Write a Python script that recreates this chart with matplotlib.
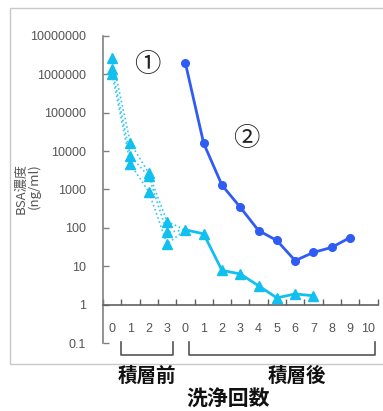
import matplotlib
matplotlib.use("Agg")
import matplotlib.pyplot as plt
from matplotlib.patches import Rectangle
from matplotlib.lines import Line2D

# Wash-count categories: 4 before lamination, 11 after
x_labels = ["0", "1", "2", "3", "0", "1", "2", "3", "4", "5", "6", "7", "8", "9", "10"]

# Before lamination (three replicates, washes 0-3)
pre_rep_a = [2.6e6, 1.6e4, 2.7e3, 146]
pre_rep_b = [1.4e6, 7.4e3, 2.2e3, 76]
pre_rep_c = [1.0e6, 4.6e3, 880, 38]

# After lamination, series 1 (washes 0-7)
post_1 = [89, 70, 7.8, 6.3, 3.1, 1.5, 1.9, 1.7]
# After lamination, series 2 (washes 0-9)
post_2 = [2.0e6, 1.6e4, 1300, 345, 85, 47, 14, 23, 31, 56]

y_ticks = [0.1, 1, 10, 100, 1000, 10000, 100000, 1000000, 10000000]
y_tick_labels = ["0.1", "1", "10", "100", "1000", "10000", "100000", "1000000", "10000000"]

LIGHT = "#12c0f0"
DARK = "#2f5cf5"
AXIS = "#808080"
TXT = "#555555"

W, H = 383, 411
fig = plt.figure(figsize=(W / 100, H / 100), dpi=100)
fig.patch.set_facecolor("white")

def fx(px):
    return px / W

def fy(py):
    return 1 - py / H

# outer chart frame
fig.patches.append(Rectangle((fx(10), fy(364)), fx(390) - fx(10), fy(8) - fy(364),
                             transform=fig.transFigure, fill=False,
                             edgecolor="#c8c8c8", linewidth=1.0))

left, right, top, bottom = 103, 377.5, 36, 343
ax = fig.add_axes([fx(left), fy(bottom), fx(right) - fx(left), fy(top) - fy(bottom)])
ax.set_facecolor("none")
ax.set_yscale("log")
ax.set_ylim(0.1, 1e7)
ax.set_xlim(0, len(x_labels))

centers = [i + 0.5 for i in range(len(x_labels))]
pre_x = centers[:4]
post_x = centers[4:]

# pre-lamination replicates: dotted lines, joined to the first post-lamination point
for rep in (pre_rep_a, pre_rep_b, pre_rep_c):
    ax.plot(pre_x + [post_x[0]], rep + [post_1[0]], linestyle=(0, (1, 1.6)),
            color=LIGHT, linewidth=1.2, alpha=0.85, zorder=2)
    ax.plot(pre_x, rep, linestyle="none", marker="^", markersize=6.5,
            color=LIGHT, zorder=3)

ax.plot(post_x[:len(post_1)], post_1, color=LIGHT, linewidth=2.0, marker="^",
        markersize=6.5, zorder=3)
ax.plot(post_x[:len(post_2)], post_2, color=DARK, linewidth=2.0, marker="o",
        markersize=5.5, zorder=4)

# axes styling
for s in ("top", "right"):
    ax.spines[s].set_visible(False)
ax.spines["left"].set_color(AXIS)
ax.spines["left"].set_linewidth(1.2)
ax.spines["bottom"].set_color("#606060")
ax.spines["bottom"].set_linewidth(1.2)
ax.spines["bottom"].set_position(("data", 1))

ax.set_yticks(y_ticks)
ax.set_yticklabels(y_tick_labels)
ax.yaxis.set_minor_locator(matplotlib.ticker.NullLocator())
ax.tick_params(axis="y", direction="in", length=4, width=1, color=AXIS,
               pad=12, labelsize=9, labelcolor=TXT)
for lab in ax.get_yticklabels():
    lab.set_family("Liberation Sans")

ax.set_xticks(range(len(x_labels) + 1))
ax.set_xticklabels([])
ax.set_xticks(centers, minor=True)
ax.set_xticklabels(x_labels, minor=True)
ax.tick_params(axis="x", which="major", direction="in", length=4, width=1, color="#606060")
ax.tick_params(axis="x", which="minor", length=0, pad=13, labelsize=9, labelcolor=TXT)
for lab in ax.get_xticklabels(minor=True):
    lab.set_family("Liberation Sans")

# circled series markers
ax.text(fx(147), fy(64), "①", transform=fig.transFigure, ha="center", va="center",
        fontsize=19, family=["Noto Sans CJK JP", "DejaVu Sans"], color="#222222")
ax.text(fx(246), fy(139), "②", transform=fig.transFigure, ha="center", va="center",
        fontsize=19, family=["Noto Sans CJK JP", "DejaVu Sans"], color="#222222")

# y-axis title (two rotated lines)
fig.text(fx(21), fy(163), "BSA濃度", rotation=90, rotation_mode="anchor",
         ha="right", va="center", fontsize=9.5, color=TXT,
         family=["Noto Sans CJK JP", "DejaVu Sans"])
fig.text(fx(34), fy(163), "(ng/ml)", rotation=90, rotation_mode="anchor",
         ha="right", va="center", fontsize=9.5, color=TXT,
         family=["Noto Sans CJK JP", "DejaVu Sans"])

# group brackets below the axis
def bracket(x0, x1, y0, y1):
    xs = [fx(x0), fx(x0), fx(x1), fx(x1)]
    ys = [fy(y0), fy(y1), fy(y1), fy(y0)]
    fig.lines.append(Line2D(xs, ys, transform=fig.transFigure, color="#555555",
                            linewidth=1.2))

bracket(121, 173, 342, 355)
bracket(189, 375, 342, 355)

jp_bold = dict(family=["Noto Sans CJK JP", "DejaVu Sans"], fontweight="bold",
               color="#111111", ha="center", va="center")
fig.text(fx(147), fy(376), "積層前", fontsize=14, **jp_bold)
fig.text(fx(297), fy(376), "積層後", fontsize=14, **jp_bold)
fig.text(fx(228), fy(399), "洗浄回数", fontsize=15, **jp_bold)

fig.savefig("out.png", dpi=100, facecolor="white")
